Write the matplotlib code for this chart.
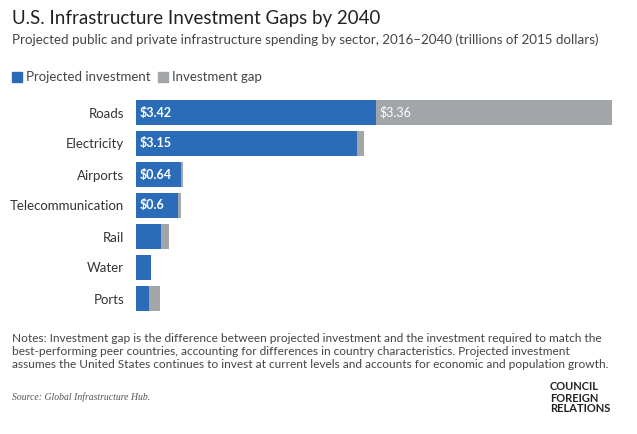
import matplotlib
matplotlib.use("Agg")
import matplotlib.pyplot as plt
plt.rcParams['font.family'] = ['Lato', 'DejaVu Sans']

sectors = ["Roads", "Electricity", "Airports", "Telecommunication", "Rail", "Water", "Ports"]
projected = [3.42, 3.15, 0.64, 0.60, 0.36, 0.21, 0.18]
gap = [3.36, 0.10, 0.03, 0.04, 0.11, 0.01, 0.16]
labels_proj = ["$3.42", "$3.15", "$0.64", "$0.6", "", "", ""]
labels_gap = ["$3.36", "", "", "", "", "", ""]

blue = "#2b6cb8"
grey = "#a3a6a9"
fig = plt.figure(figsize=(6.37, 4.34), dpi=100)
ax = fig.add_axes([136/637, 1-314/434, (612-136)/637, (314-97)/434])
y = list(range(len(sectors)))
ax.barh(y, projected, color=blue, height=0.82)
ax.barh(y, gap, left=projected, color=grey, height=0.82)
for i in y:
    if labels_proj[i]:
        ax.text(0.05, i, labels_proj[i], color="white", fontsize=9, fontweight="bold", va="center")
    if labels_gap[i]:
        ax.text(projected[i]+0.05, i, labels_gap[i], color="white", fontsize=9, va="center")
ax.set_yticks(y)
ax.set_yticklabels(sectors, fontsize=9.5, color="#333333")
ax.tick_params(left=False, bottom=False, labelbottom=False, pad=5)
ax.set_ylim(6.5, -0.5)
ax.set_xlim(0, projected[0]+gap[0])
for s in ax.spines.values():
    s.set_visible(False)

fig.text(12/637, 1-10/434, "U.S. Infrastructure Investment Gaps by 2040", fontsize=13.5, va="top", color="#222222")
fig.text(12/637, 1-33/434, "Projected public and private infrastructure spending by sector, 2016–2040 (trillions of 2015 dollars)", fontsize=9.6, va="top", color="#444444")
fig.patches.append(matplotlib.patches.Rectangle((12/637, 1-82/434), 10/637, 10/434, color=blue, transform=fig.transFigure))
fig.text(26/637, 1-77/434, "Projected investment", fontsize=9.5, va="center", color="#444444")
fig.patches.append(matplotlib.patches.Rectangle((158/637, 1-82/434), 10/637, 10/434, color=grey, transform=fig.transFigure))
fig.text(172/637, 1-77/434, "Investment gap", fontsize=9.5, va="center", color="#444444")
fig.text(12/637, 1-333/434, "Notes: Investment gap is the difference between projected investment and the investment required to match the\nbest-performing peer countries, accounting for differences in country characteristics. Projected investment\nassumes the United States continues to invest at current levels and accounts for economic and population growth.",
         fontsize=8.6, va="top", color="#444444", linespacing=1.2)
fig.text(12/637, 1-397/434, "Source: Global Infrastructure Hub.", fontsize=7, va="center", color="#555555", style="italic", family="Liberation Serif")
fig.text(550/637, 1-398/434, "COUNCIL\nFOREIGN\nRELATIONS", fontsize=8, va="center", color="#222222", fontweight="bold", linespacing=1.0)
fig.savefig("out.png", dpi=100)
